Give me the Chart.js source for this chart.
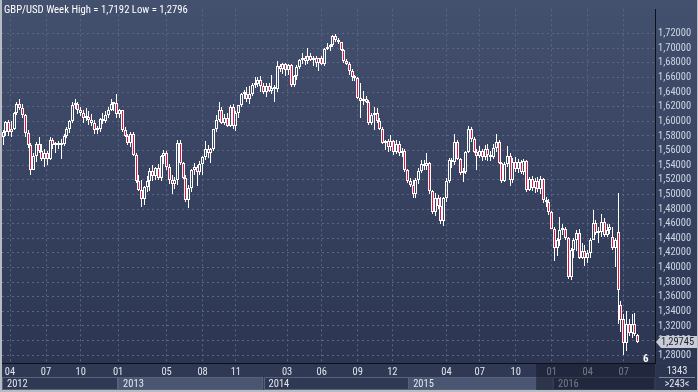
<!DOCTYPE html>
<html>
<head>
<meta charset="utf-8">
<title>GBP/USD Week</title>
<script src="https://cdn.jsdelivr.net/npm/chart.js@4.4.1/dist/chart.umd.min.js"></script>
<style>
  html, body { margin: 0; padding: 0; background: #2d3650; }
  canvas { display: block; }
</style>
</head>
<body>
<canvas id="chart" width="698" height="392"></canvas>
<script>
// weekly candles, Mar 2012 .. Aug 2016
const opens = [
  1.5780,1.5850,1.5990,1.5860,1.5900,1.6110,1.6240,1.6180,1.6090,1.5840,
  1.5680,1.5340,1.5520,1.5690,1.5600,1.5490,1.5560,1.5480,1.5740,1.5680,
  1.5700,1.5670,1.5690,1.5800,1.5900,1.6000,1.6220,1.6240,1.6150,1.6120,
  1.6040,1.6060,1.6020,1.5980,1.5880,1.5900,1.6030,1.6010,1.6090,1.6160,
  1.6240,1.6250,1.6100,1.6150,1.5880,1.5800,1.5700,1.5820,1.5540,1.5180,
  1.5060,1.4940,1.5100,1.5190,1.5320,1.5250,1.5360,1.5220,1.5520,1.5560,
  1.5380,1.5200,1.5140,1.5200,1.5700,1.5430,1.5230,1.4920,1.5090,1.5330,
  1.5370,1.5310,1.5410,1.5510,1.5620,1.5560,1.5620,1.5890,1.6020,1.6160,
  1.5980,1.6040,1.5930,1.6190,1.5940,1.6120,1.6220,1.6370,1.6380,1.6310,
  1.6380,1.6500,1.6510,1.6560,1.6490,1.6400,1.6490,1.6420,1.6460,1.6440,
  1.6760,1.6710,1.6780,1.6700,1.6770,1.6500,1.6620,1.6750,1.6840,1.6870,
  1.6820,1.6890,1.6840,1.6870,1.6800,1.6860,1.6790,1.6990,1.7020,1.7040,
  1.7170,1.7110,1.7080,1.6980,1.6820,1.6790,1.6690,1.6600,1.6590,1.6320,
  1.6280,1.6310,1.6270,1.5980,1.6090,1.6110,1.6010,1.5900,1.5700,1.5730,
  1.5650,1.5730,1.5580,1.5690,1.5560,1.5600,1.5330,1.5180,1.5130,1.5010,
  1.5200,1.5320,1.5420,1.5390,1.5430,1.5040,1.4760,1.4950,1.4840,1.4640,
  1.4950,1.5190,1.5470,1.5440,1.5720,1.5490,1.5290,1.5310,1.5580,1.5890,
  1.5760,1.5580,1.5520,1.5600,1.5510,1.5620,1.5540,1.5510,1.5640,1.5720,
  1.5430,1.5190,1.5410,1.5530,1.5200,1.5440,1.5350,1.5450,1.5300,1.5460,
  1.5060,1.5210,1.5090,1.5190,1.5080,1.5210,1.4920,1.4890,1.4760,1.4530,
  1.4270,1.4380,1.4510,1.4520,1.4400,1.3870,1.4240,1.4380,1.4470,1.4130,
  1.4220,1.4130,1.4200,1.4380,1.4610,1.4470,1.4490,1.4620,1.4440,1.4510,
  1.4420,1.4270,1.4490,1.3490,1.3290,1.2960,1.3230,1.3110,1.3230,1.3070
]
const highs = [
  1.5880,1.6010,1.6020,1.6000,1.6130,1.6270,1.6300,1.6240,1.6100,1.5880,
  1.5700,1.5570,1.5720,1.5780,1.5690,1.5620,1.5600,1.5780,1.5770,1.5720,
  1.5730,1.5760,1.5820,1.5920,1.6020,1.6270,1.6310,1.6260,1.6200,1.6160,
  1.6180,1.6140,1.6100,1.6020,1.5940,1.6050,1.6110,1.6140,1.6200,1.6310,
  1.6270,1.6380,1.6170,1.6160,1.5920,1.5830,1.5860,1.5850,1.5560,1.5270,
  1.5200,1.5120,1.5250,1.5360,1.5400,1.5380,1.5420,1.5540,1.5610,1.5600,
  1.5420,1.5260,1.5240,1.5750,1.5750,1.5450,1.5270,1.5130,1.5350,1.5430,
  1.5400,1.5460,1.5530,1.5730,1.5680,1.5640,1.5900,1.6090,1.6270,1.6190,
  1.6100,1.6120,1.6230,1.6240,1.6140,1.6230,1.6390,1.6430,1.6470,1.6480,
  1.6520,1.6600,1.6600,1.6620,1.6520,1.6520,1.6520,1.6640,1.6500,1.6820,
  1.6790,1.6800,1.6800,1.6790,1.6790,1.6640,1.6770,1.6850,1.6930,1.6900,
  1.7000,1.6940,1.6900,1.6890,1.6870,1.6890,1.7010,1.7070,1.7060,1.7180,
  1.7192,1.7140,1.7090,1.6990,1.6850,1.6810,1.6710,1.6640,1.6600,1.6530,
  1.6420,1.6340,1.6290,1.6120,1.6200,1.6180,1.6040,1.5920,1.5750,1.5760,
  1.5810,1.5740,1.5750,1.5730,1.5640,1.5620,1.5350,1.5230,1.5200,1.5230,
  1.5360,1.5470,1.5470,1.5560,1.5440,1.5060,1.5020,1.4990,1.4960,1.4970,
  1.5220,1.5500,1.5500,1.5820,1.5740,1.5500,1.5360,1.5600,1.5930,1.5920,
  1.5790,1.5620,1.5660,1.5620,1.5680,1.5690,1.5600,1.5690,1.5820,1.5740,
  1.5450,1.5440,1.5660,1.5560,1.5500,1.5510,1.5480,1.5470,1.5480,1.5470,
  1.5240,1.5250,1.5230,1.5240,1.5250,1.5230,1.4960,1.4940,1.4770,1.4560,
  1.4400,1.4690,1.4590,1.4560,1.4420,1.4270,1.4400,1.4510,1.4530,1.4330,
  1.4310,1.4240,1.4400,1.4780,1.4650,1.4560,1.4730,1.4680,1.4600,1.4600,
  1.4560,1.4400,1.5020,1.3540,1.3370,1.3400,1.3290,1.3360,1.3380,1.3090
]
const lows = [
  1.5670,1.5800,1.5800,1.5790,1.5880,1.6080,1.6160,1.6050,1.5780,1.5640,
  1.5270,1.5330,1.5450,1.5560,1.5460,1.5380,1.5400,1.5470,1.5620,1.5560,
  1.5620,1.5490,1.5660,1.5770,1.5840,1.5980,1.6170,1.6100,1.6070,1.5980,
  1.6000,1.5950,1.5940,1.5830,1.5830,1.5860,1.5970,1.5980,1.6040,1.6140,
  1.6140,1.6050,1.6040,1.5850,1.5780,1.5680,1.5650,1.5520,1.5160,1.5040,
  1.4830,1.4860,1.5030,1.5040,1.5190,1.5200,1.5200,1.5190,1.5420,1.5330,
  1.5140,1.5010,1.5080,1.5130,1.5400,1.5210,1.4900,1.4810,1.5030,1.5270,
  1.5120,1.5270,1.5260,1.5470,1.5500,1.5430,1.5600,1.5850,1.5990,1.5960,
  1.5950,1.5920,1.5920,1.5900,1.5870,1.6040,1.6190,1.6300,1.6270,1.6240,
  1.6340,1.6460,1.6470,1.6400,1.6380,1.6330,1.6400,1.6380,1.6270,1.6400,
  1.6680,1.6650,1.6620,1.6640,1.6470,1.6470,1.6570,1.6720,1.6790,1.6770,
  1.6790,1.6820,1.6760,1.6750,1.6690,1.6770,1.6760,1.6980,1.6960,1.7020,
  1.7090,1.7060,1.6960,1.6800,1.6770,1.6640,1.6550,1.6550,1.6300,1.6050,
  1.6220,1.6250,1.5950,1.5950,1.5880,1.5980,1.5880,1.5690,1.5610,1.5580,
  1.5590,1.5540,1.5550,1.5530,1.5510,1.5300,1.5150,1.5100,1.4950,1.4950,
  1.5140,1.5290,1.5340,1.5340,1.5010,1.4730,1.4700,1.4800,1.4600,1.4570,
  1.4900,1.5150,1.5360,1.5400,1.5470,1.5260,1.5170,1.5280,1.5560,1.5720,
  1.5560,1.5330,1.5500,1.5460,1.5470,1.5460,1.5460,1.5480,1.5580,1.5410,
  1.5160,1.5170,1.5380,1.5110,1.5160,1.5300,1.5290,1.5280,1.5260,1.5030,
  1.5050,1.5050,1.5020,1.5030,1.5010,1.4880,1.4830,1.4720,1.4520,1.4090,
  1.4160,1.4300,1.4440,1.4380,1.3840,1.3830,1.4130,1.4220,1.4110,1.4110,
  1.4020,1.4060,1.4130,1.4370,1.4450,1.4330,1.4420,1.4420,1.4420,1.4460,
  1.4240,1.4010,1.3220,1.3120,1.2796,1.2860,1.3060,1.3040,1.3060,1.2960
]
const closes = [
  1.5850,1.5990,1.5860,1.5900,1.6110,1.6240,1.6180,1.6090,1.5840,1.5680,
  1.5340,1.5520,1.5690,1.5600,1.5490,1.5560,1.5480,1.5740,1.5680,1.5700,
  1.5670,1.5690,1.5800,1.5900,1.6000,1.6220,1.6240,1.6150,1.6120,1.6040,
  1.6060,1.6020,1.5980,1.5880,1.5900,1.6030,1.6010,1.6090,1.6160,1.6240,
  1.6250,1.6100,1.6150,1.5880,1.5800,1.5700,1.5820,1.5540,1.5180,1.5060,
  1.4940,1.5100,1.5190,1.5320,1.5250,1.5360,1.5220,1.5520,1.5560,1.5380,
  1.5200,1.5140,1.5200,1.5700,1.5430,1.5230,1.4920,1.5090,1.5330,1.5370,
  1.5310,1.5410,1.5510,1.5620,1.5560,1.5620,1.5890,1.6020,1.6160,1.5980,
  1.6040,1.5930,1.6190,1.5940,1.6120,1.6220,1.6370,1.6380,1.6310,1.6380,
  1.6500,1.6510,1.6560,1.6490,1.6400,1.6490,1.6420,1.6460,1.6440,1.6760,
  1.6710,1.6780,1.6700,1.6770,1.6500,1.6620,1.6750,1.6840,1.6870,1.6820,
  1.6890,1.6840,1.6870,1.6800,1.6860,1.6790,1.6990,1.7020,1.7040,1.7170,
  1.7110,1.7080,1.6980,1.6820,1.6790,1.6690,1.6600,1.6590,1.6320,1.6280,
  1.6310,1.6270,1.5980,1.6090,1.6110,1.6010,1.5900,1.5700,1.5730,1.5650,
  1.5730,1.5580,1.5690,1.5560,1.5600,1.5330,1.5180,1.5130,1.5010,1.5200,
  1.5320,1.5420,1.5390,1.5430,1.5040,1.4760,1.4950,1.4840,1.4640,1.4950,
  1.5190,1.5470,1.5440,1.5720,1.5490,1.5290,1.5310,1.5580,1.5890,1.5760,
  1.5580,1.5520,1.5600,1.5510,1.5620,1.5540,1.5510,1.5640,1.5720,1.5430,
  1.5190,1.5410,1.5530,1.5200,1.5440,1.5350,1.5450,1.5300,1.5460,1.5060,
  1.5210,1.5090,1.5190,1.5080,1.5210,1.4920,1.4890,1.4760,1.4530,1.4270,
  1.4380,1.4510,1.4520,1.4400,1.3870,1.4240,1.4380,1.4470,1.4130,1.4220,
  1.4130,1.4200,1.4380,1.4610,1.4470,1.4490,1.4620,1.4440,1.4510,1.4560,
  1.4270,1.4380,1.3690,1.3280,1.2960,1.3230,1.3110,1.3230,1.3090,1.2975
]

// axis labels (x values are week numbers)
const monthTicks = [2.5, 15.5, 28, 41.5, 59, 72, 84, 102.5, 115, 128, 140.5, 160, 172, 185, 198, 211, 224]
const monthLabels = ['04', '07', '10', '01', '05', '08', '11', '03', '06', '09', '12', '04', '07', '10', '01', '04', '07']
const yearStarts = [-0.4, 41.5, 94, 146.2, 198.5]
const yearLabels = ['2012', '2013', '2014', '2015', '2016']
const priceTicks = [1.28, 1.30, 1.32, 1.34, 1.36, 1.38, 1.40, 1.42, 1.44, 1.46, 1.48, 1.50,
  1.52, 1.54, 1.56, 1.58, 1.60, 1.62, 1.64, 1.66, 1.68, 1.70, 1.72]
const lastPrice = 1.29745
const title = 'GBP/USD Week High = 1,7192 Low = 1,2796'

const FONT = "'Roboto Condensed', 'Liberation Sans', sans-serif"
const RED = '#e8103c'
const WHITE = '#ffffff'
const GRID = '#5a6682'

const fmt = (v, d) => v.toFixed(d).replace('.', ',')

const upperWicks = closes.map((c, i) => ({ x: i, y: [Math.max(opens[i], c), highs[i]] }))
const lowerWicks = closes.map((c, i) => ({ x: i, y: [lows[i], Math.min(opens[i], c)] }))
const bodies = closes.map((c, i) => ({ x: i, y: [opens[i], c] }))

// keep candles on whole pixels so they stay crisp
const pixelSnap = {
  id: 'pixelSnap',
  beforeDatasetsDraw (chart) {
    chart.getSortedVisibleDatasetMetas().forEach(meta => {
      meta.data.forEach(el => {
        el.x = Math.floor(el.x) + 0.5
        el.y = Math.round(el.y)
        el.base = Math.round(el.base)
      })
    })
  }
}

const decorations = {
  id: 'decorations',
  beforeDraw (chart) {
    const { ctx, chartArea: a, scales: { x } } = chart
    const g = ctx.createLinearGradient(0, 0, 0, a.bottom)
    g.addColorStop(0, '#43506e')
    g.addColorStop(1, '#2c3653')
    ctx.fillStyle = g
    ctx.fillRect(0, 0, chart.width, a.bottom)
    ctx.fillStyle = '#2f3953'
    ctx.fillRect(0, a.bottom, chart.width, chart.height - a.bottom)

    // year band
    ctx.font = '10.5px ' + FONT
    ctx.textBaseline = 'middle'
    yearStarts.forEach((s, k) => {
      const x0 = x.getPixelForValue(s)
      const x1 = k + 1 < yearStarts.length ? x.getPixelForValue(yearStarts[k + 1]) : a.right
      ctx.fillStyle = k % 2 ? '#4a5671' : '#2f3953'
      ctx.fillRect(x0, 377, x1 - x0, 13)
      ctx.strokeStyle = '#56627c'
      ctx.strokeRect(Math.round(x0) + 0.5, 377.5, Math.round(x1 - x0) - 1, 12)
      ctx.fillStyle = '#e2e7ef'
      ctx.fillText(yearLabels[k], Math.max(x0, 2) + 5, 384)
    })
  },
  afterDraw (chart) {
    const { ctx, chartArea: a, scales: { x, y } } = chart
    ctx.save()
    // greyed future part of the time axis
    const xs = x.getPixelForValue(192.4)
    ctx.fillStyle = 'rgba(22, 28, 44, 0.55)'
    ctx.fillRect(xs, a.bottom + 1, a.right - xs, 26)

    // title
    ctx.font = '10.7px ' + FONT
    ctx.textBaseline = 'middle'
    ctx.fillStyle = '#ffffff'
    ctx.fillText(title, 4, 10)

    // last price tag
    const py = Math.round(y.getPixelForValue(lastPrice))
    ctx.fillStyle = '#c9cdd5'
    ctx.beginPath()
    ctx.moveTo(a.right + 1, py)
    ctx.lineTo(a.right + 6, py - 6)
    ctx.lineTo(697, py - 6)
    ctx.lineTo(697, py + 6)
    ctx.lineTo(a.right + 6, py + 6)
    ctx.closePath()
    ctx.fill()
    ctx.font = '10.5px ' + FONT
    ctx.fillStyle = '#1c2233'
    ctx.fillText(fmt(lastPrice, 5), a.right + 6, py + 0.5)

    // small marker in the corner
    ctx.font = 'bold 11px ' + FONT
    ctx.fillStyle = '#ffffff'
    ctx.fillText('6', a.right - 12, a.bottom - 4)

    // bottom right box
    ctx.fillStyle = '#2c3550'
    ctx.fillRect(a.right + 1, a.bottom + 1, chart.width - a.right - 1, chart.height - a.bottom - 1)
    ctx.font = '10.5px ' + FONT
    ctx.textAlign = 'center'
    ctx.fillStyle = '#dfe5ee'
    ctx.fillText('1343', 677, 371)
    ctx.fillText('>243<', 677, 384)
    ctx.fillStyle = '#7c879c'
    ctx.fillRect(659, 377, 36, 1)

    // frame
    ctx.fillStyle = '#b7bbc3'
    ctx.fillRect(0, 0, 2, chart.height)
    ctx.fillRect(0, chart.height - 2, chart.width, 2)
    ctx.fillRect(chart.width - 1, 0, 1, chart.height)
    ctx.restore()
  }
}

const canvas = document.getElementById('chart')
new Chart(canvas, {
  type: 'bar',
  data: {
    datasets: [
      { data: upperWicks, backgroundColor: WHITE, barThickness: 1, borderWidth: 0 },
      { data: lowerWicks, backgroundColor: WHITE, barThickness: 1, borderWidth: 0 },
      {
        data: bodies,
        barThickness: 3,
        minBarLength: 2,
        borderWidth: 1,
        borderColor: WHITE,
        borderSkipped: false,
        backgroundColor: (c) => closes[c.dataIndex] < opens[c.dataIndex] ? RED : 'rgba(0,0,0,0)'
      }
    ]
  },
  options: {
    responsive: false,
    animation: false,
    devicePixelRatio: 1,
    layout: { padding: { left: 2, top: 0, right: 0, bottom: 0 } },
    datasets: { bar: { grouped: false, inflateAmount: 0 } },
    plugins: { legend: { display: false }, tooltip: { enabled: false } },
    scales: {
      x: {
        type: 'linear',
        min: -0.4,
        max: 235.3,
        offset: false,
        afterBuildTicks: (s) => { s.ticks = monthTicks.map(v => ({ value: v })) },
        afterFit: (s) => { s.height = 29 },
        grid: { color: GRID, offset: false, drawTicks: false },
        border: { color: '#0d1017', width: 1, dash: [2, 3] },
        ticks: {
          autoSkip: false,
          maxRotation: 0,
          padding: 3,
          color: '#dfe5ee',
          font: { family: FONT, size: 10.5 },
          callback: (v, i) => monthLabels[i]
        }
      },
      y: {
        position: 'right',
        min: 1.2693,
        max: 1.7533,
        afterBuildTicks: (s) => { s.ticks = priceTicks.map(v => ({ value: v })) },
        afterFit: (s) => { s.width = 43 },
        grid: { color: GRID, drawTicks: false },
        border: { color: '#0d1017', width: 1, dash: [2, 3] },
        ticks: {
          autoSkip: false,
          padding: 3,
          color: '#ccd5e4',
          font: { family: FONT, size: 10.5 },
          callback: (v) => fmt(v, 5)
        }
      }
    }
  },
  plugins: [decorations, pixelSnap]
})
</script>
</body>
</html>
